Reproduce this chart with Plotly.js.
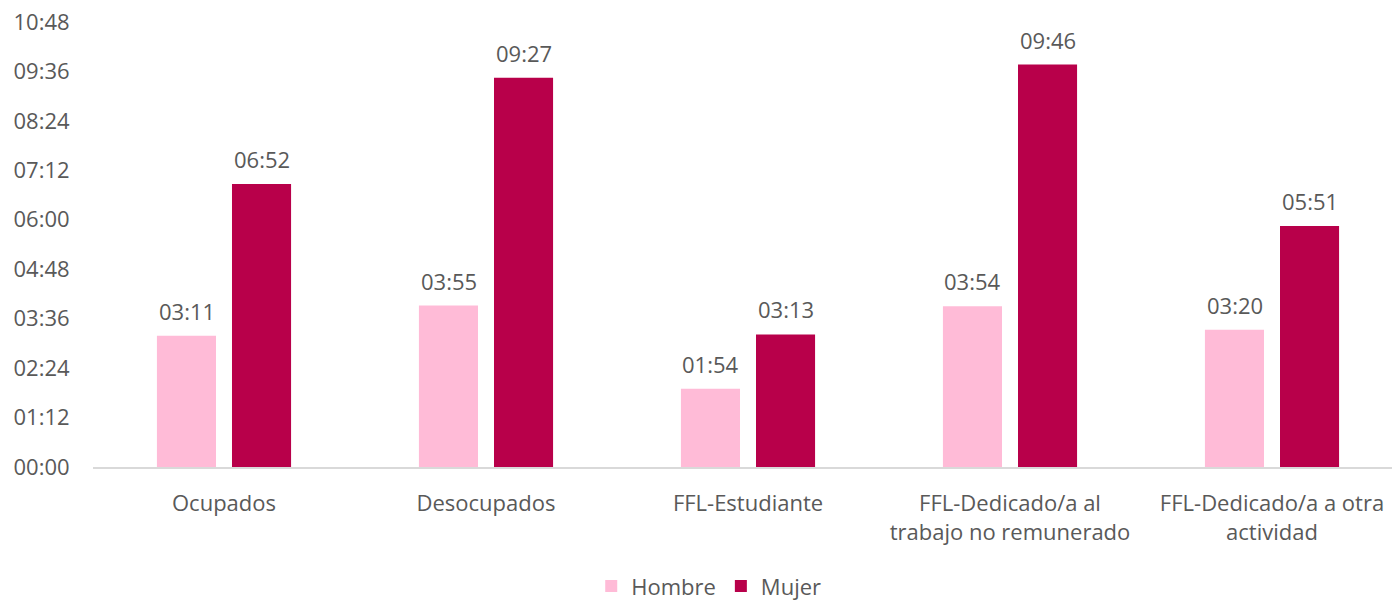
<!DOCTYPE html>
<html>
<head>
<meta charset="utf-8">
<script src="https://cdn.plot.ly/plotly-3.0.1.min.js"></script>
<style>html,body{margin:0;padding:0;background:#fff;}#chart{width:1392px;height:601px;}</style>
</head>
<body>
<div id="chart"></div>
<script>
const categories = ["Ocupados", "Desocupados", "FFL-Estudiante", "FFL-Dedicado/a al<br>trabajo no remunerado", "FFL-Dedicado/a a otra<br>actividad"];
const hombreMin = [191, 235, 114, 234, 200];
const mujerMin = [412, 567, 193, 586, 351];
const tickVals = [0, 72, 144, 216, 288, 360, 432, 504, 576, 648];
const tickText = ["00:00", "01:12", "02:24", "03:36", "04:48", "06:00", "07:12", "08:24", "09:36", "10:48"];

function fmt(m) {
  const h = Math.floor(m / 60), mm = m % 60;
  return String(h).padStart(2, "0") + ":" + String(mm).padStart(2, "0");
}

const font = {family: "'Open Sans', 'Noto Sans', sans-serif", size: 22, color: "#595959"};

const traces = [
  {type: "bar", name: "Hombre", x: categories, y: hombreMin, marker: {color: "#FFBBD7"}, hoverinfo: "none"},
  {type: "bar", name: "Mujer", x: categories, y: mujerMin, marker: {color: "#B8004A"}, hoverinfo: "none"}
];

const annotations = [];
categories.forEach((c, i) => {
  annotations.push({x: c, y: hombreMin[i], text: fmt(hombreMin[i]), xref: "x", yref: "y", showarrow: false,
    xshift: -37.5, yshift: 8, yanchor: "bottom", font: font});
  annotations.push({x: c, y: mujerMin[i], text: fmt(mujerMin[i]), xref: "x", yref: "y", showarrow: false,
    xshift: 37.5, yshift: 8, yanchor: "bottom", font: font});
});

const layout = {
  width: 1392, height: 601,
  margin: {l: 93, r: 0, t: 22, b: 134, autoexpand: false},
  paper_bgcolor: "#fff", plot_bgcolor: "#fff",
  font: font,
  barmode: "group", bargap: 0.427, bargroupgap: 0.213,
  xaxis: {type: "category", range: [-0.5, 4.458], showgrid: false, showline: true, linecolor: "#D9D9D9", linewidth: 1.5,
          ticks: "outside", ticklen: 16, tickcolor: "rgba(0,0,0,0)", tickfont: font, fixedrange: true, zeroline: false, automargin: false},
  yaxis: {range: [0, 648], tickvals: tickVals, ticktext: tickText, showgrid: false, zeroline: false, showline: false,
          ticks: "outside", ticklen: 18, tickcolor: "rgba(0,0,0,0)", tickfont: font, automargin: false},
  annotations: annotations,
  showlegend: true,
  legend: {orientation: "h", x: 0.474, xanchor: "center", y: -0.268, yanchor: "middle", font: font, itemwidth: 30, traceorder: "normal"}
};

Plotly.newPlot("chart", traces, layout, {staticPlot: true, displayModeBar: false});
</script>
</body>
</html>
